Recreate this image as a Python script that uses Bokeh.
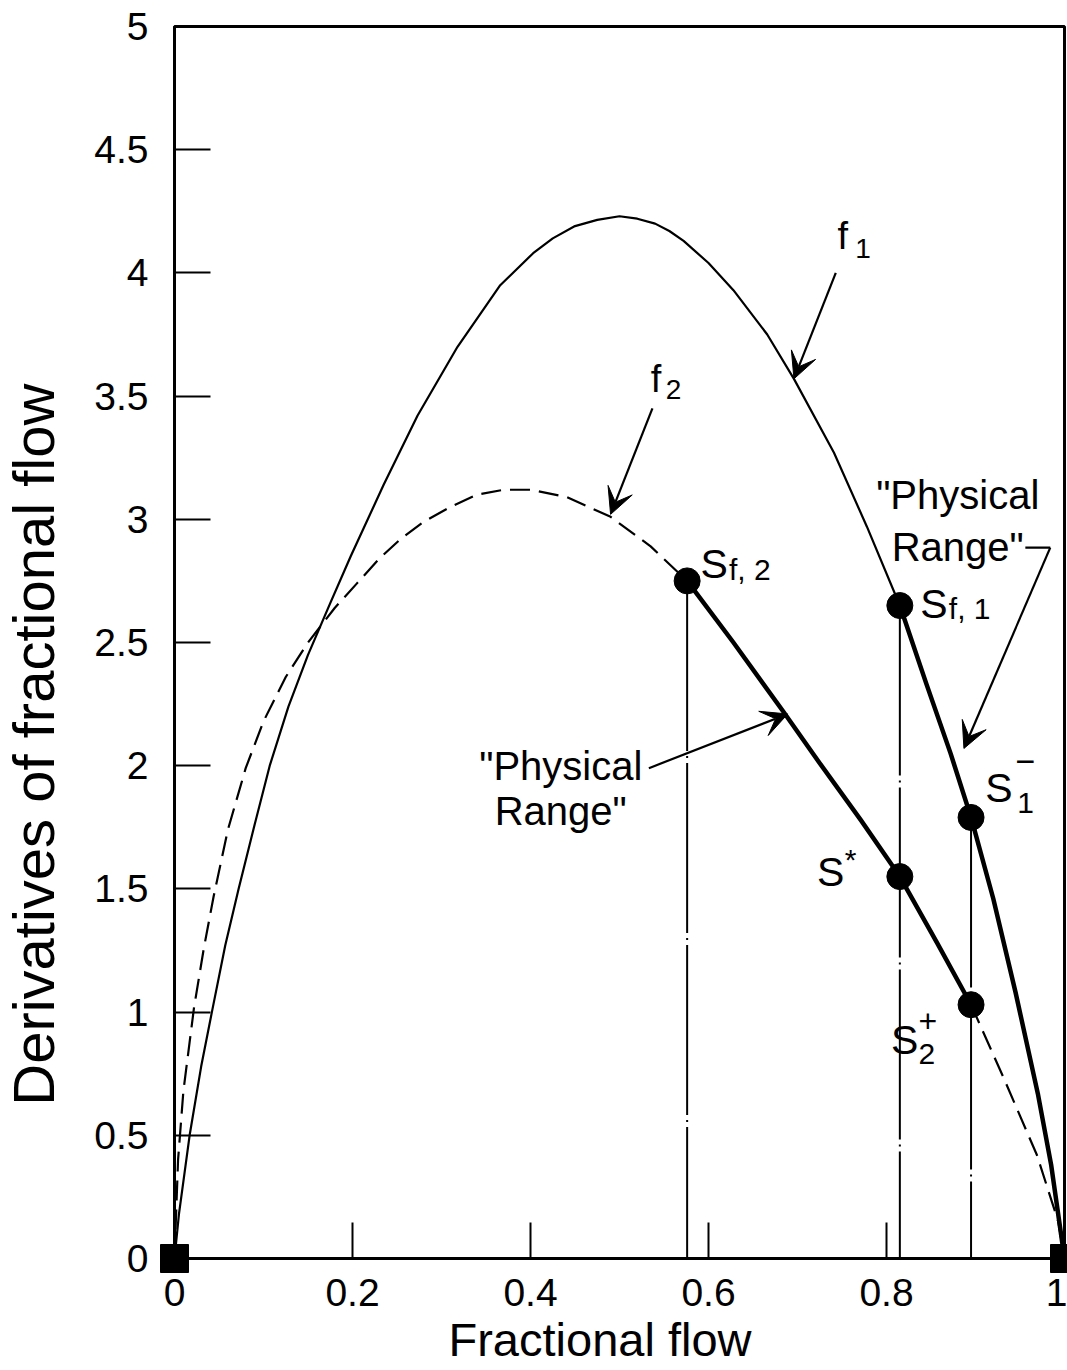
from bokeh.plotting import figure
from bokeh.layouts import row
from bokeh.models import Range1d, FixedTicker, Arrow, VeeHead, Title
from bokeh.core.properties import value
from bokeh.embed import file_html
from bokeh.resources import INLINE

# ---------------- data ----------------
# f1 : derivative of fractional flow, thin part (0 .. S_f,1)
f1_x = [0.0, 0.005, 0.017, 0.030, 0.042, 0.057, 0.072, 0.090, 0.107, 0.128, 0.150,
        0.175, 0.198, 0.235, 0.273, 0.318, 0.366, 0.403, 0.425, 0.450, 0.475, 0.500,
        0.520, 0.540, 0.556, 0.572, 0.600, 0.628, 0.666, 0.696, 0.741, 0.778, 0.815]
f1_y = [0.0, 0.18, 0.50, 0.78, 1.00, 1.27, 1.50, 1.76, 2.00, 2.24, 2.45,
        2.66, 2.85, 3.14, 3.42, 3.70, 3.95, 4.08, 4.14, 4.19, 4.215, 4.23,
        4.22, 4.20, 4.17, 4.13, 4.04, 3.93, 3.75, 3.57, 3.27, 2.97, 2.65]
# f1 "physical range" (S_f,1 .. 1)
f1_phys_x = [0.815, 0.845, 0.872, 0.895, 0.920, 0.945, 0.970, 0.985, 1.0]
f1_phys_y = [2.65, 2.33, 2.05, 1.79, 1.46, 1.08, 0.67, 0.38, 0.0]

# f2 : dashed part (0 .. S_f,2)
f2_x = [0.0, 0.004, 0.010, 0.022, 0.033, 0.044, 0.060, 0.080, 0.100, 0.125, 0.150,
        0.180, 0.205, 0.230, 0.254, 0.280, 0.310, 0.340, 0.370, 0.400, 0.441, 0.490,
        0.535, 0.576]
f2_y = [0.0, 0.40, 0.68, 1.02, 1.26, 1.47, 1.74, 1.99, 2.18, 2.36, 2.50,
        2.64, 2.74, 2.84, 2.92, 2.99, 3.05, 3.10, 3.12, 3.12, 3.09, 3.01,
        2.89, 2.75]
# f2 "physical range" (S_f,2 .. S2+)
f2_phys_x = [0.576, 0.628, 0.684, 0.725, 0.771, 0.815, 0.857, 0.895]
f2_phys_y = [2.75, 2.50, 2.22, 2.01, 1.78, 1.55, 1.28, 1.03]
# f2 dashed tail (S2+ .. 1)
f2_tail_x = [0.895, 0.932, 0.969, 0.993, 1.0]
f2_tail_y = [1.03, 0.73, 0.42, 0.15, 0.0]

# named points: S_f,2, S_f,1, S1-, S*, S2+
pt_names = ["Sf2", "Sf1", "S1-", "S*", "S2+"]
pt_x = [0.576, 0.815, 0.895, 0.815, 0.895]
pt_y = [2.75, 2.65, 1.79, 1.55, 1.03]

# end points (squares)
end_x = [0.0, 1.0]
end_y = [0.0, 0.0]

x_ticks = [0, 0.2, 0.4, 0.6, 0.8, 1]
x_tick_labels = ["0", "0.2", "0.4", "0.6", "0.8", "1"]
y_ticks = [0, 0.5, 1, 1.5, 2, 2.5, 3, 3.5, 4, 4.5, 5]
y_tick_labels = ["0", "0.5", "1", "1.5", "2", "2.5", "3", "3.5", "4", "4.5", "5"]

x_title = "Fractional flow"
y_title = "Derivatives of fractional flow"

FONT = "Liberation Sans"
W, H = 1067, 1370
LW = 66  # width of the strip that holds the vertical axis title

yr = Range1d(0, 5)

# ---------------- strip with the y-axis title ----------------
ylab = figure(width=LW, height=H, output_backend="svg", toolbar_location=None,
              x_range=Range1d(0, LW), y_range=yr,
              x_axis_type=None, y_axis_type=None,
              min_border_left=0, min_border_right=0, min_border_top=26, min_border_bottom=112)
ylab.outline_line_color = None
ylab.grid.visible = False
ylab.background_fill_color = "white"
ylab.border_fill_color = "white"
ylab.text(x=[33], y=[0.62], text=[y_title], angle=1.5707963,
          text_font=value(FONT), text_font_size="58px", text_align="left",
          text_baseline="middle", text_color="black")

# ---------------- main plot ----------------
p = figure(width=W - LW, height=H, output_backend="svg", toolbar_location=None,
           x_range=Range1d(0, 1), y_range=yr,
           min_border_left=174 - LW, min_border_right=3, min_border_top=26, min_border_bottom=112)
p.background_fill_color = "white"
p.border_fill_color = "white"
p.grid.visible = False
p.outline_line_color = "black"
p.outline_line_width = 3

for ax, ticks, labels in ((p.xaxis[0], x_ticks, x_tick_labels), (p.yaxis[0], y_ticks, y_tick_labels)):
    ax.ticker = FixedTicker(ticks=ticks)
    ax.major_label_overrides = {t: l for t, l in zip(ticks, labels)}
    ax.major_tick_in = 36
    ax.major_tick_out = 0
    ax.minor_tick_in = 0
    ax.minor_tick_out = 0
    ax.major_tick_line_width = 2
    ax.axis_line_width = 3
    ax.axis_line_color = "black"
    ax.major_tick_line_color = "black"
    ax.major_label_text_font = FONT
    ax.major_label_text_font_size = "39px"
    ax.major_label_text_color = "black"
p.xaxis.major_label_standoff = 20
p.yaxis.major_label_standoff = 26

p.add_layout(Title(text=x_title, align="left", offset=274, standoff=4,
                   vertical_align="bottom", text_font=FONT, text_font_size="47px",
                   text_font_style="normal", text_color="black"), "below")

# vertical guide lines
vdash = "170 5 2 5"
for i in range(3):
    p.segment(x0=[pt_x[i]], y0=[pt_y[i]], x1=[pt_x[i]], y1=[0.0],
              line_color="black", line_width=2, line_dash=vdash)

# curves
p.line(f1_x, f1_y, line_color="black", line_width=2.2, line_join="round")
p.line(f1_phys_x, f1_phys_y, line_color="black", line_width=4.5, line_join="round")
p.line(f2_x, f2_y, line_color="black", line_width=2.2, line_dash="20 9")
p.line(f2_phys_x, f2_phys_y, line_color="black", line_width=4.5, line_join="round")
p.line(f2_tail_x, f2_tail_y, line_color="black", line_width=2.2, line_dash="20 9")

p.scatter(pt_x, pt_y, marker="circle", size=26, fill_color="black", line_color="black")
p.scatter(end_x, end_y, marker="square", size=28, fill_color="black", line_color="black",
          level="overlay")

# arrows
def arrow(x0, y0, x1, y1):
    p.add_layout(Arrow(end=VeeHead(size=26, fill_color="black", line_color="black", line_width=1),
                       x_start=x0, y_start=y0, x_end=x1, y_end=y1,
                       line_color="black", line_width=2.2))

arrow(0.743, 4.00, 0.696, 3.57)   # f1
arrow(0.537, 3.45, 0.490, 3.02)   # f2
arrow(0.533, 1.99, 0.689, 2.21)   # left physical range
p.line([0.956, 0.984], [2.885, 2.885], line_color="black", line_width=2.2)
arrow(0.984, 2.885, 0.887, 2.07)  # right physical range

# texts
def txt(x, y, s, size, align="left"):
    p.text(x=[x], y=[y + 0.058], text=[s], text_font=value(FONT), text_font_size=f"{size}px",
           text_align=align, text_baseline="alphabetic", text_color="black")

txt(0.745, 4.09, "f", 38)
txt(0.765, 4.04, "1", 28)
txt(0.535, 3.51, "f", 38)
txt(0.552, 3.47, "2", 28)

txt(0.591, 2.76, "S", 41)
txt(0.623, 2.74, "f, 2", 30)
txt(0.838, 2.60, "S", 41)
txt(0.870, 2.58, "f, 1", 30)
txt(0.722, 1.51, "S", 41)
txt(0.753, 1.56, "*", 30)
txt(0.911, 1.85, "S", 41)
txt(0.945, 1.96, "\u2212", 34)
txt(0.947, 1.79, "1", 30)
txt(0.805, 0.83, "S", 41)
txt(0.836, 0.905, "+", 32)
txt(0.836, 0.77, "2", 30)

txt(0.880, 3.04, "\"Physical", 40, align="center")
txt(0.880, 2.83, "Range\"", 40, align="center")
txt(0.434, 1.94, "\"Physical", 40, align="center")
txt(0.434, 1.76, "Range\"", 40, align="center")

layout = row(ylab, p, spacing=0)
open("out.html", "w").write(file_html(layout, INLINE))
